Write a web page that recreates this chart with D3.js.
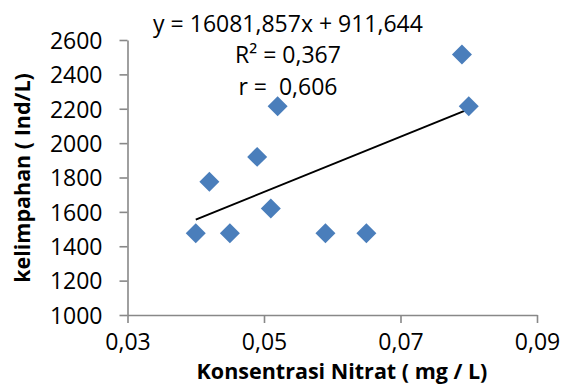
<!DOCTYPE html>
<html>
<head>
<meta charset="utf-8">
<script src="https://cdn.jsdelivr.net/npm/d3@7"></script>
<style>
  body { margin: 0; background: #fff; }
  text { font-family: "Open Sans", sans-serif; fill: #000; }
</style>
</head>
<body>
<div id="chart"></div>
<script>
const nitrat = [0.040, 0.042, 0.045, 0.049, 0.051, 0.052, 0.059, 0.065, 0.079, 0.080];
const kelimpahan = [1475, 1775, 1475, 1920, 1620, 2215, 1475, 1475, 2515, 2215];
const xTicks = [0.03, 0.05, 0.07, 0.09];
const yTicks = [1000, 1200, 1400, 1600, 1800, 2000, 2200, 2400, 2600];
const slope = 16081.857;
const intercept = 911.644;
const eqLines = ["y = 16081,857x + 911,644", "R² = 0,367", "r =  0,606"];

const width = 563, height = 384;
const svg = d3.select("#chart").append("svg")
    .attr("width", width)
    .attr("height", height);

const x = d3.scaleLinear().domain([0.03, 0.09]).range([127.5, 537]);
const y = d3.scaleLinear().domain([1000, 2600]).range([315, 40]);

const comma = d => d3.format(".2f")(d).replace(".", ",");

// axes
const xAxis = svg.append("g")
    .attr("transform", `translate(0,${y(1000)})`)
    .call(d3.axisBottom(x).tickValues(xTicks).tickSize(8).tickSizeOuter(0).tickFormat(comma).tickPadding(11));
const yAxis = svg.append("g")
    .attr("transform", `translate(${x(0.03)},0)`)
    .call(d3.axisLeft(y).tickValues(yTicks).tickSize(8).tickSizeOuter(0).tickFormat(d3.format("d")).tickPadding(17));

[xAxis, yAxis].forEach(a => {
    a.selectAll("path, line").attr("stroke", "#888").attr("stroke-width", 1.6);
    a.selectAll("text").style("font-size", "23px").attr("fill", "#000");
});
yAxis.selectAll("text").attr("dy", "0.36em");
xAxis.selectAll("text").attr("dy", "0.71em");

// trendline
const xr = d3.extent(nitrat);
svg.append("line")
    .attr("x1", x(xr[0])).attr("y1", y(slope * xr[0] + intercept))
    .attr("x2", x(xr[1])).attr("y2", y(slope * xr[1] + intercept))
    .attr("stroke", "#000")
    .attr("stroke-width", 2);

// points
const diamond = d3.symbol().type(d3.symbolSquare).size(200);
svg.append("g").selectAll("path")
    .data(nitrat)
    .join("path")
    .attr("d", diamond)
    .attr("transform", (d, i) => `translate(${x(d)},${y(kelimpahan[i])}) rotate(45)`)
    .attr("fill", "#4A7EBB");

// equation text
const eqY = [32, 63, 95];
svg.append("g").selectAll("text")
    .data(eqLines)
    .join("text")
    .attr("x", 288)
    .attr("y", (d, i) => eqY[i])
    .attr("text-anchor", "middle")
    .style("white-space", "pre")
    .style("font-size", "23px")
    .text(d => d);

// axis titles
svg.append("text")
    .attr("x", 342)
    .attr("y", 379)
    .attr("text-anchor", "middle")
    .style("font-size", "21.5px")
    .style("font-weight", "bold")
    .text("Konsentrasi Nitrat ( mg / L)");

svg.append("text")
    .attr("transform", "translate(30,178) rotate(-90)")
    .attr("text-anchor", "middle")
    .style("font-size", "21.5px")
    .style("font-weight", "bold")
    .text("kelimpahan ( Ind/L)");
</script>
</body>
</html>
